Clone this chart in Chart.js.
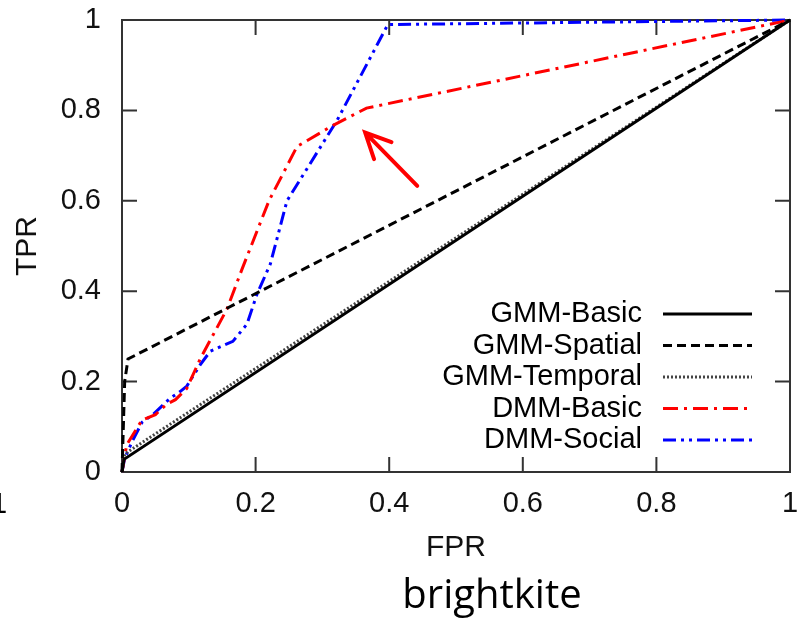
<!DOCTYPE html>
<html>
<head>
<meta charset="utf-8">
<style>
  html, body { margin: 0; padding: 0; background: #fff; }
  #wrap { width: 805px; height: 620px; position: relative; }
</style>
</head>
<body>
<div id="wrap"><canvas id="rocChart" width="805" height="620"></canvas></div>
<script src="https://cdn.jsdelivr.net/npm/chart.js"></script>
<script>
// values (FPR on x, TPR on y)
const gmmBasicFpr = [0, 0.003, 1];
const gmmBasicTpr = [0, 0.028, 1];
const gmmSpatialFpr = [0, 0.004, 0.009, 1];
const gmmSpatialTpr = [0, 0.2, 0.25, 1];
const gmmTemporalFpr = [0, 0.004, 1];
const gmmTemporalTpr = [0, 0.04, 1];
const dmmBasicFpr = [0, 0.007, 0.03, 0.05, 0.067, 0.08, 0.097, 0.117, 0.157, 0.18, 0.22, 0.262, 0.316, 0.366, 1];
const dmmBasicTpr = [0, 0.06, 0.115, 0.127, 0.15, 0.16, 0.185, 0.25, 0.36, 0.45, 0.6, 0.72, 0.767, 0.805, 1];
const dmmSocialFpr = [0, 0.004, 0.015, 0.03, 0.047, 0.072, 0.087, 0.097, 0.117, 0.132, 0.166, 0.187, 0.202, 0.222, 0.247, 0.322, 0.398, 1];
const dmmSocialTpr = [0, 0.03, 0.067, 0.11, 0.128, 0.163, 0.178, 0.19, 0.237, 0.267, 0.289, 0.327, 0.393, 0.46, 0.6, 0.778, 0.99, 1];

const xTicks = [0, 0.2, 0.4, 0.6, 0.8, 1];
const yTicks = [0, 0.2, 0.4, 0.6, 0.8, 1];

// red annotation arrow, in data units: [fpr, tpr]
const arrowTail = [0.442, 0.633];
const arrowHead = [0.364, 0.751];

const caption = "brightkite";

function pts(xs, ys) {
  return xs.map((x, i) => ({ x: x, y: ys[i] }));
}

const tickFont = { family: "'Liberation Sans', Arial, sans-serif", size: 29 };

const framePlugin = {
  id: "frame",
  beforeDatasetsDraw(chart) {
    const { ctx, chartArea: a, scales } = chart;
    ctx.save();
    ctx.strokeStyle = "#333";
    ctx.lineWidth = 2;
    ctx.strokeRect(a.left, a.top, a.right - a.left, a.bottom - a.top);
    ctx.beginPath();
    xTicks.forEach(v => {
      const px = scales.x.getPixelForValue(v);
      ctx.moveTo(px, a.bottom); ctx.lineTo(px, a.bottom - 15);
      ctx.moveTo(px, a.top); ctx.lineTo(px, a.top + 15);
    });
    yTicks.forEach(v => {
      const py = scales.y.getPixelForValue(v);
      ctx.moveTo(a.left, py); ctx.lineTo(a.left + 15, py);
      ctx.moveTo(a.right, py); ctx.lineTo(a.right - 15, py);
    });
    ctx.stroke();
    ctx.restore();
  },
  afterDraw(chart) {
    const { ctx, scales } = chart;
    ctx.save();

    // legend, gnuplot style: text right-aligned, sample line to the right
    ctx.font = "29px 'Liberation Sans', Arial, sans-serif";
    ctx.textAlign = "right";
    ctx.textBaseline = "middle";
    chart.data.datasets.forEach((ds, i) => {
      const y = 314 + i * 31.5;
      ctx.fillStyle = "#000";
      ctx.fillText(ds.label, 642, y);
      ctx.beginPath();
      ctx.strokeStyle = ds.borderColor;
      ctx.lineWidth = ds.borderWidth;
      ctx.setLineDash(ds.borderDash || []);
      ctx.moveTo(663, y);
      ctx.lineTo(752, y);
      ctx.stroke();
    });
    ctx.setLineDash([]);

    // arrow
    const tx = scales.x.getPixelForValue(arrowTail[0]);
    const ty = scales.y.getPixelForValue(arrowTail[1]);
    const hx = scales.x.getPixelForValue(arrowHead[0]);
    const hy = scales.y.getPixelForValue(arrowHead[1]);
    const ang = Math.atan2(hy - ty, hx - tx);
    ctx.strokeStyle = "#ff0000";
    ctx.lineWidth = 4;
    ctx.lineCap = "round";
    ctx.beginPath();
    ctx.moveTo(tx, ty); ctx.lineTo(hx, hy);
    ctx.moveTo(hx - 28 * Math.cos(ang - 0.45), hy - 28 * Math.sin(ang - 0.45));
    ctx.lineTo(hx, hy);
    ctx.lineTo(hx - 28 * Math.cos(ang + 0.45), hy - 28 * Math.sin(ang + 0.45));
    ctx.stroke();

    // caption below the figure, and the stray cut-off label at left
    ctx.fillStyle = "#000";
    ctx.textAlign = "center";
    ctx.textBaseline = "alphabetic";
    ctx.font = "40px 'Open Sans', sans-serif";
    ctx.fillText(caption, 492, 608);
    ctx.font = "29px 'Liberation Sans', Arial, sans-serif";
    ctx.textAlign = "left";
    ctx.fillText("1", -9, 513);
    ctx.restore();
  }
};

const common = { pointRadius: 0, borderWidth: 3, tension: 0, fill: false, clip: 6 };

new Chart(document.getElementById("rocChart"), {
  type: "line",
  data: {
    datasets: [
      Object.assign({ label: "GMM-Basic", data: pts(gmmBasicFpr, gmmBasicTpr), borderColor: "#000" }, common),
      Object.assign({ label: "GMM-Spatial", data: pts(gmmSpatialFpr, gmmSpatialTpr), borderColor: "#000", borderDash: [9, 5] }, common),
      Object.assign({ label: "GMM-Temporal", data: pts(gmmTemporalFpr, gmmTemporalTpr), borderColor: "#444", borderDash: [2, 2] }, common),
      Object.assign({ label: "DMM-Basic", data: pts(dmmBasicFpr, dmmBasicTpr), borderColor: "#ff0000", borderDash: [15, 6, 3, 6] }, common),
      Object.assign({ label: "DMM-Social", data: pts(dmmSocialFpr, dmmSocialTpr), borderColor: "#0000ff", borderDash: [13, 5, 3, 5, 3, 5] }, common)
    ]
  },
  options: {
    responsive: false,
    animation: false,
    layout: { padding: { top: 20, right: 15, left: 0, bottom: 0 } },
    plugins: { legend: { display: false }, tooltip: { enabled: false } },
    scales: {
      x: {
        type: "linear", min: 0, max: 1,
        afterBuildTicks: s => { s.ticks = xTicks.map(v => ({ value: v })); },
        afterFit: s => { s.height = 148; s.paddingLeft = 0; s.paddingRight = 0; },
        grid: { display: false, drawTicks: false },
        border: { display: false },
        ticks: { font: tickFont, color: "#111", padding: 15, maxRotation: 0,
                 callback: v => String(+v.toFixed(1)) },
        title: { display: true, text: "FPR", font: { family: "'Liberation Sans', Arial, sans-serif", size: 30 },
                 color: "#111", padding: { top: 0, bottom: 54 } }
      },
      y: {
        type: "linear", min: 0, max: 1,
        afterBuildTicks: s => { s.ticks = yTicks.map(v => ({ value: v })); },
        afterFit: s => { s.width = 122; s.paddingTop = 0; s.paddingBottom = 0; },
        grid: { display: false, drawTicks: false },
        border: { display: false },
        ticks: { font: tickFont, color: "#111", padding: 21,
                 callback: v => String(+v.toFixed(1)) },
        title: { display: true, text: "TPR", font: { family: "'Liberation Sans', Arial, sans-serif", size: 30 },
                 color: "#111", padding: { top: 10, bottom: 0 } }
      }
    }
  },
  plugins: [framePlugin]
});
</script>
</body>
</html>
